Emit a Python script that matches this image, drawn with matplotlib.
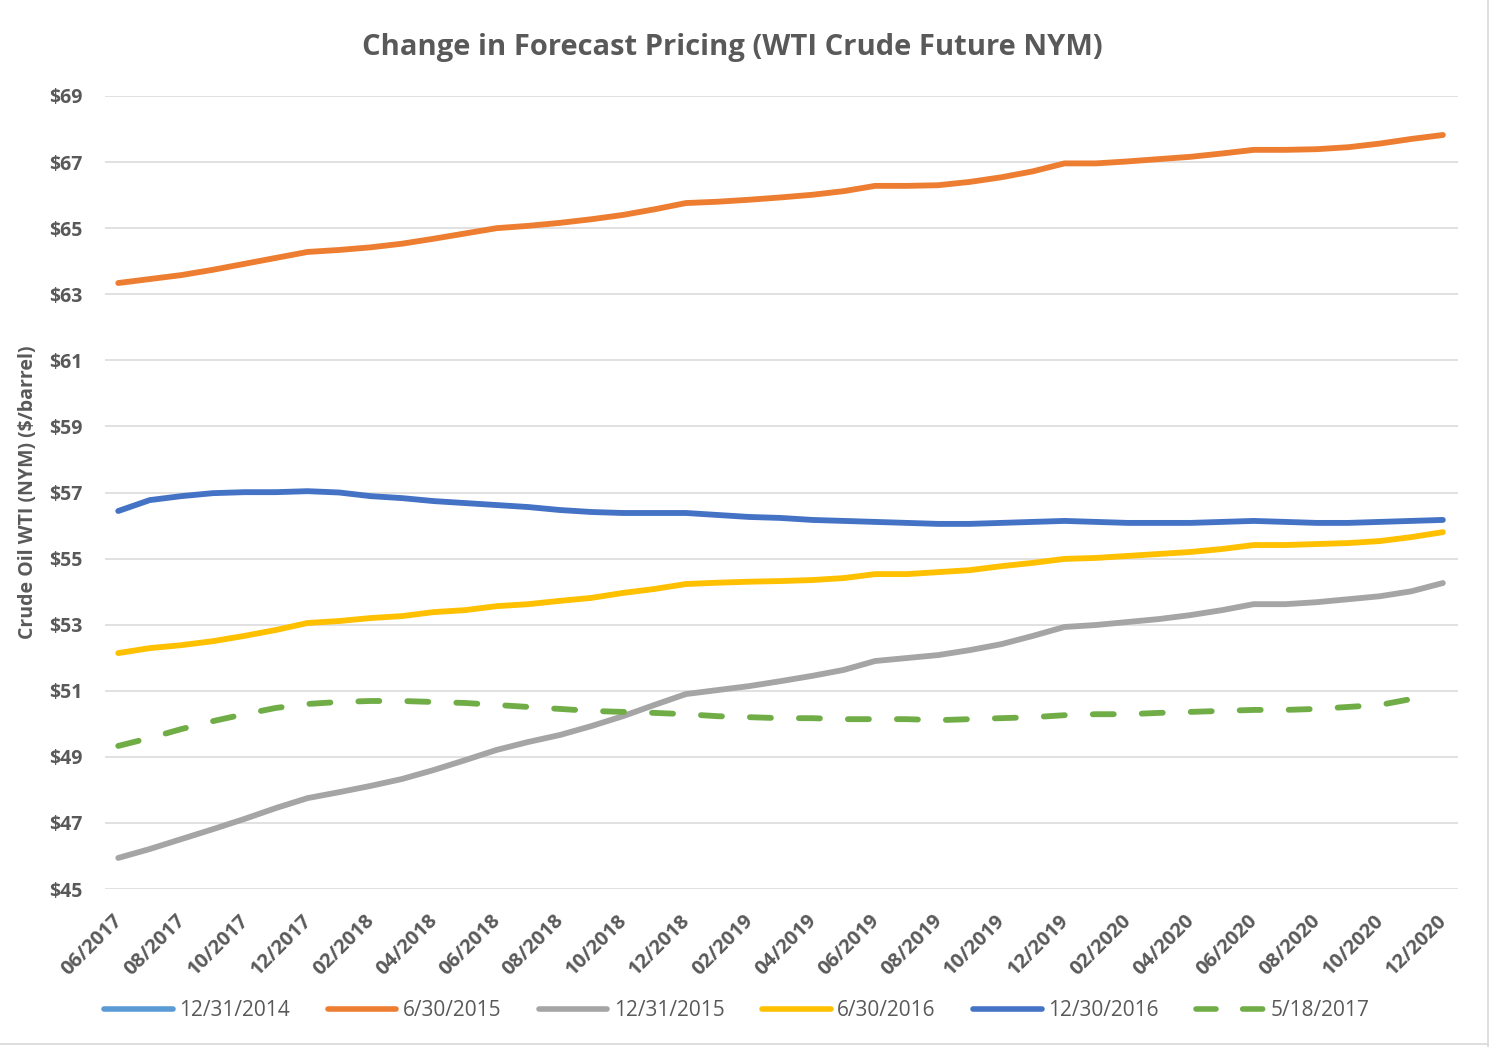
import numpy as np
import matplotlib
matplotlib.use("Agg")
import matplotlib.pyplot as plt
from matplotlib.lines import Line2D
from matplotlib.transforms import ScaledTranslation

plt.rcParams['font.family'] = ['Open Sans', 'DejaVu Sans']

months = ["06/2017", "07/2017", "08/2017", "09/2017", "10/2017", "11/2017", "12/2017",
          "01/2018", "02/2018", "03/2018", "04/2018", "05/2018", "06/2018", "07/2018",
          "08/2018", "09/2018", "10/2018", "11/2018", "12/2018", "01/2019", "02/2019",
          "03/2019", "04/2019", "05/2019", "06/2019", "07/2019", "08/2019", "09/2019",
          "10/2019", "11/2019", "12/2019", "01/2020", "02/2020", "03/2020", "04/2020",
          "05/2020", "06/2020", "07/2020", "08/2020", "09/2020", "10/2020", "11/2020",
          "12/2020"]

nan = np.nan
s_12_31_2014 = [nan] * 43

s_6_30_2015 = [63.34, 63.46, 63.58, 63.74, 63.92, 64.10, 64.28, 64.34, 64.42, 64.53,
               64.68, 64.84, 65.00, 65.07, 65.16, 65.27, 65.40, 65.57, 65.76, 65.80,
               65.86, 65.93, 66.01, 66.12, 66.28, 66.28, 66.30, 66.40, 66.54, 66.72,
               66.96, 66.96, 67.02, 67.09, 67.16, 67.26, 67.37, 67.37, 67.39, 67.45,
               67.56, 67.70, 67.82]

s_12_31_2015 = [45.94, 46.21, 46.51, 46.81, 47.12, 47.45, 47.75, 47.93, 48.12, 48.33,
                48.60, 48.90, 49.21, 49.45, 49.66, 49.93, 50.23, 50.57, 50.90, 51.02,
                51.14, 51.29, 51.45, 51.63, 51.90, 51.99, 52.08, 52.23, 52.41, 52.66,
                52.93, 52.99, 53.08, 53.17, 53.29, 53.44, 53.62, 53.62, 53.68, 53.77,
                53.86, 54.01, 54.26]

s_6_30_2016 = [52.14, 52.29, 52.38, 52.50, 52.66, 52.84, 53.05, 53.11, 53.20, 53.26,
               53.38, 53.44, 53.56, 53.62, 53.72, 53.81, 53.96, 54.08, 54.23, 54.27,
               54.30, 54.32, 54.35, 54.41, 54.53, 54.53, 54.59, 54.65, 54.77, 54.87,
               54.99, 55.02, 55.08, 55.14, 55.20, 55.29, 55.41, 55.41, 55.44, 55.47,
               55.53, 55.65, 55.80]

s_12_30_2016 = [56.44, 56.77, 56.89, 56.98, 57.01, 57.01, 57.04, 57.00, 56.89, 56.83,
                56.74, 56.68, 56.62, 56.56, 56.47, 56.41, 56.38, 56.38, 56.38, 56.32,
                56.26, 56.23, 56.17, 56.14, 56.11, 56.08, 56.05, 56.05, 56.08, 56.11,
                56.14, 56.11, 56.08, 56.08, 56.08, 56.11, 56.14, 56.11, 56.08, 56.08,
                56.11, 56.14, 56.17]

s_5_18_2017 = [49.33, 49.57, 49.84, 50.08, 50.29, 50.48, 50.60, 50.66, 50.69, 50.69,
               50.66, 50.63, 50.57, 50.51, 50.45, 50.39, 50.36, 50.33, 50.29, 50.23,
               50.20, 50.17, 50.17, 50.14, 50.14, 50.14, 50.11, 50.14, 50.17, 50.20,
               50.26, 50.29, 50.29, 50.33, 50.36, 50.39, 50.42, 50.42, 50.45, 50.51,
               50.57, 50.75, nan]

series_labels = ["12/31/2014", "6/30/2015", "12/31/2015", "6/30/2016", "12/30/2016", "5/18/2017"]
series_data = [s_12_31_2014, s_6_30_2015, s_12_31_2015, s_6_30_2016, s_12_30_2016, s_5_18_2017]
series_colors = ["#5B9BD5", "#ED7D31", "#A5A5A5", "#FFC000", "#4472C4", "#70AD47"]

yticks = list(range(45, 70, 2))

W, H = 1489, 1047
fig = plt.figure(figsize=(W / 100, H / 100), dpi=100)
ax = fig.add_axes([105 / W, 1 - 889 / H, (1458 - 105) / W, (889 - 96) / H])

x = np.arange(len(months))
lw = 4.2
handles = []
for lab, data, col in zip(series_labels, series_data, series_colors):
    if lab == "5/18/2017":
        ln, = ax.plot(x, data, color=col, lw=lw, label=lab, solid_capstyle='round',
                      dash_capstyle='round', solid_joinstyle='round')
        ln.set_dashes([3.6, 4.8])
    else:
        lwi = 2.6 if lab == "12/31/2014" else lw
        ln, = ax.plot(x, data, color=col, lw=lwi, label=lab, solid_capstyle='round',
                      solid_joinstyle='round')
    handles.append(ln)

ax.set_xlim(-0.42, 42.48)
ax.set_ylim(45, 69)
ax.tick_params(axis='both', length=0)
ax.tick_params(axis='y', pad=16)
ax.tick_params(axis='x', pad=4)
ax.set_yticks(yticks)
ax.set_yticklabels([f"${v}" for v in yticks], fontsize=14, fontweight='bold', color='#595959')
ax.set_xticks(x[::2])
ax.set_xticklabels(months[::2], rotation=45, ha='right', rotation_mode='anchor',
                   fontsize=14.5, fontweight='bold', color='#595959')
offset = ScaledTranslation(-6 / 100, -16 / 100, fig.dpi_scale_trans)
for t in ax.get_xticklabels():
    t.set_transform(t.get_transform() + offset)
ax.grid(axis='y', color='#D9D9D9', lw=1.1)
ax.set_axisbelow(True)
for sp in ax.spines.values():
    sp.set_visible(False)

ax.set_ylabel("Crude Oil WTI (NYM) ($/barrel)", fontsize=14, fontweight='bold',
              color='#595959')
ax.yaxis.set_label_coords(-67 / (1458 - 105), 0.5)

fig.suptitle("Change in Forecast Pricing (WTI Crude Future NYM)", x=732 / W, y=1 - 47 / H,
             va='center', fontsize=21, fontweight='bold', color='#595959')

leg = fig.legend(handles=handles, labels=series_labels, loc='center', ncol=6,
                 bbox_to_anchor=(737 / W, 1 - 1011 / H), frameon=False,
                 fontsize=15, handlelength=3.3, handletextpad=0.3, columnspacing=1.8)
for t in leg.get_texts():
    t.set_color('#595959')
for lh in leg.get_lines():
    lh.set_linewidth(4.0)

fig.add_artist(Line2D([1 - 1.5 / W, 1 - 1.5 / W], [0, 1], transform=fig.transFigure,
                      color='#D9D9D9', lw=1.2))
fig.add_artist(Line2D([0, 1], [3 / H, 3 / H], transform=fig.transFigure,
                      color='#D9D9D9', lw=1.2))

fig.savefig("out.png", dpi=100)
